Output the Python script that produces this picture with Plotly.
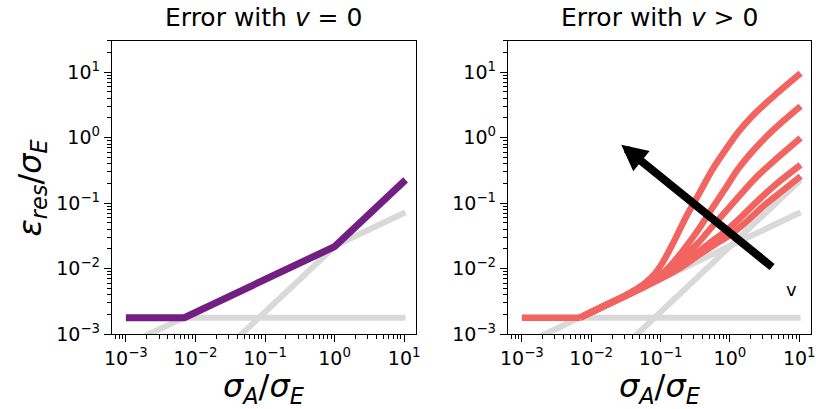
import plotly.graph_objects as go

# ---- data (log10 values of x = sigma_A/sigma_E and y = eps_res/sigma_E) ----
line_logx = [-3.0, 1.02]
gray_flat_logy = [-2.75, -2.75]
gray_sqrt_logy = [-3.17, -1.14]
gray_lin_logy = [-4.665, -0.645]

purple_logx = [-3.0, -2.16, 0.0, 1.02]
purple_logy = [-2.75, -2.75, -1.665, -0.645]

red_flat_logx = [-3.0, -2.16]
red_flat_logy = [-2.75, -2.75]

red0_logx = [-2.16, -1.8, -1.5, -1.3, -1.2, -1.09, -0.971, -0.828, -0.636, -0.441, -0.255, -0.063, 0.127, 0.318, 0.653, 1.02]
red0_logy = [-2.75, -2.565, -2.405, -2.28, -2.2, -2.09, -1.91, -1.63, -1.22, -0.849, -0.492, -0.187, 0.093, 0.323, 0.654, 0.985]

red1_logx = [-2.16, -1.8, -1.5, -1.2, -1.019, -0.828, -0.636, -0.441, -0.255, -0.063, 0.127, 0.367, 0.653, 1.02]
red1_logy = [-2.75, -2.565, -2.413, -2.25, -2.12, -1.92, -1.67, -1.384, -1.078, -0.772, -0.466, -0.161, 0.145, 0.48]

red2_logx = [-2.16, -1.8, -1.5, -1.2, -1.0, -0.828, -0.636, -0.441, -0.255, -0.063, 0.127, 0.367, 0.653, 1.02]
red2_logy = [-2.75, -2.565, -2.415, -2.26, -2.13, -1.97, -1.79, -1.589, -1.359, -1.13, -0.901, -0.619, -0.339, -0.005]

red3_logx = [-2.16, -1.8, -1.5, -1.2, -0.9, -0.7, -0.441, -0.255, -0.063, 0.127, 0.367, 0.653, 1.02]
red3_logy = [-2.75, -2.565, -2.414, -2.255, -2.07, -1.91, -1.73, -1.58, -1.43, -1.25, -1.0, -0.722, -0.416]

red4_logx = [-2.16, -1.8, -1.5, -1.2, -0.9, -0.7, -0.445, -0.2, -0.016, 0.223, 0.5, 0.75, 1.02]
red4_logy = [-2.75, -2.565, -2.415, -2.262, -2.1, -1.98, -1.79, -1.62, -1.5, -1.3, -1.03, -0.82, -0.59]

red_logx = [red0_logx, red1_logx, red2_logx, red3_logx, red4_logx]
red_logy = [red0_logy, red1_logy, red2_logy, red3_logy, red4_logy]

major_ticks = [0.001, 0.01, 0.1, 1, 10]
major_tick_text = ["10<sup>\u22123</sup>", "10<sup>\u22122</sup>", "10<sup>\u22121</sup>", "10<sup>0</sup>", "10<sup>1</sup>"]
minor_mult = [2, 3, 4, 5, 6, 7, 8, 9]
minor_decades_x = [0.0001, 0.001, 0.01, 0.1, 1]
minor_decades_y = [0.001, 0.01, 0.1, 1, 10]

titles = ["Error with <i>v</i> = 0", "Error with <i>v</i> &gt; 0"]
xlabel = "<i>σ</i><sub><i>A</i></sub>/<i>σ</i><sub><i>E</i></sub>"
ylabel = "<i>ε</i><sub><i>res</i></sub>/<i>σ</i><sub><i>E</i></sub>"

# arrow (log10 data coords on right panel)
arrow_tail_log = (0.63, -1.995)
arrow_tip_log = (-1.567, -0.11)
v_label_log = (0.887, -2.327)

GRAY = "#d9d9d9"
PURPLE = "#731e83"
RED = "#f16460"
FONT = "DejaVu Sans"

def tv(vals):
    return [10 ** v for v in vals]

W, H = 816, 409
fig = go.Figure()

for xa, ya in [("x", "y"), ("x2", "y2")]:
    for gy in (gray_flat_logy, gray_sqrt_logy, gray_lin_logy):
        fig.add_trace(go.Scatter(x=tv(line_logx), y=tv(gy), mode="lines",
                                 line=dict(color=GRAY, width=6), xaxis=xa, yaxis=ya, hoverinfo="skip"))

fig.add_trace(go.Scatter(x=tv(purple_logx), y=tv(purple_logy), mode="lines",
                         line=dict(color=PURPLE, width=7), xaxis="x", yaxis="y"))
fig.add_trace(go.Scatter(x=tv(red_flat_logx), y=tv(red_flat_logy), mode="lines",
                         line=dict(color=RED, width=6.5), xaxis="x2", yaxis="y2"))
for rx, ry in zip(red_logx, red_logy):
    fig.add_trace(go.Scatter(x=tv(rx), y=tv(ry), mode="lines",
                             line=dict(color=RED, width=6.5, shape="spline", smoothing=0.8),
                             xaxis="x2", yaxis="y2"))

dom_y = [1 - 334 / H, 1 - 41 / H]
dom_x1 = [112 / W, 416 / W]
dom_x2 = [508 / W, 811 / W]

minor_x = [d * m for d in minor_decades_x for m in minor_mult]
minor_y = [d * m for d in minor_decades_y for m in minor_mult]

def axis_common(minor_vals):
    return dict(type="log", showgrid=False, zeroline=False, showline=True, linecolor="black",
                linewidth=1.4, mirror=True, automargin=False,
                ticks="outside", ticklen=7, tickwidth=1.4, tickcolor="black",
                tickmode="array", tickvals=major_ticks, ticktext=major_tick_text,
                tickfont=dict(family=FONT, size=19, color="black"),
                minor=dict(tickmode="array", tickvals=minor_vals, ticks="outside", ticklen=4,
                           tickwidth=1, tickcolor="black", showgrid=False))

def xax(dom, anchor):
    d = axis_common(minor_x)
    d.update(range=[-3.2, 1.17], domain=dom, anchor=anchor)
    return d

def yax(anchor):
    d = axis_common(minor_y)
    d.update(range=[-3, 1.477], domain=dom_y, anchor=anchor)
    return d

annotations = []
for t, dom in zip(titles, [dom_x1, dom_x2]):
    annotations.append(dict(text=t, xref="paper", yref="paper", x=(dom[0] + dom[1]) / 2, y=1 - 18 / H,
                            showarrow=False, xanchor="center", yanchor="middle",
                            font=dict(family=FONT, size=25, color="black")))
    annotations.append(dict(text=xlabel, xref="paper", yref="paper", x=(dom[0] + dom[1]) / 2, y=1 - 388 / H,
                            showarrow=False, xanchor="center", yanchor="middle",
                            font=dict(family=FONT, size=32, color="black")))
annotations.append(dict(text=ylabel, xref="paper", yref="paper", x=31 / W, y=(dom_y[0] + dom_y[1]) / 2,
                        showarrow=False, xanchor="center", yanchor="middle", textangle=-90,
                        font=dict(family=FONT, size=32, color="black")))

annotations.append(dict(text="", xref="x2", yref="y2", axref="x2", ayref="y2",
                        x=arrow_tip_log[0], y=arrow_tip_log[1],
                        ax=arrow_tail_log[0], ay=arrow_tail_log[1],
                        showarrow=True, arrowhead=2, arrowsize=0.65, arrowwidth=8, arrowcolor="black"))
annotations.append(dict(text="v", xref="x2", yref="y2", x=v_label_log[0], y=v_label_log[1],
                        showarrow=False, font=dict(family=FONT, size=18, color="black")))

fig.update_layout(width=W, height=H, autosize=False,
                  margin=dict(l=0, r=0, t=0, b=0, pad=0, autoexpand=False),
                  paper_bgcolor="white", plot_bgcolor="white", showlegend=False,
                  xaxis=xax(dom_x1, "y"), yaxis=yax("x"),
                  xaxis2=xax(dom_x2, "y2"), yaxis2=yax("x2"),
                  annotations=annotations)

fig.write_html("out.html")
